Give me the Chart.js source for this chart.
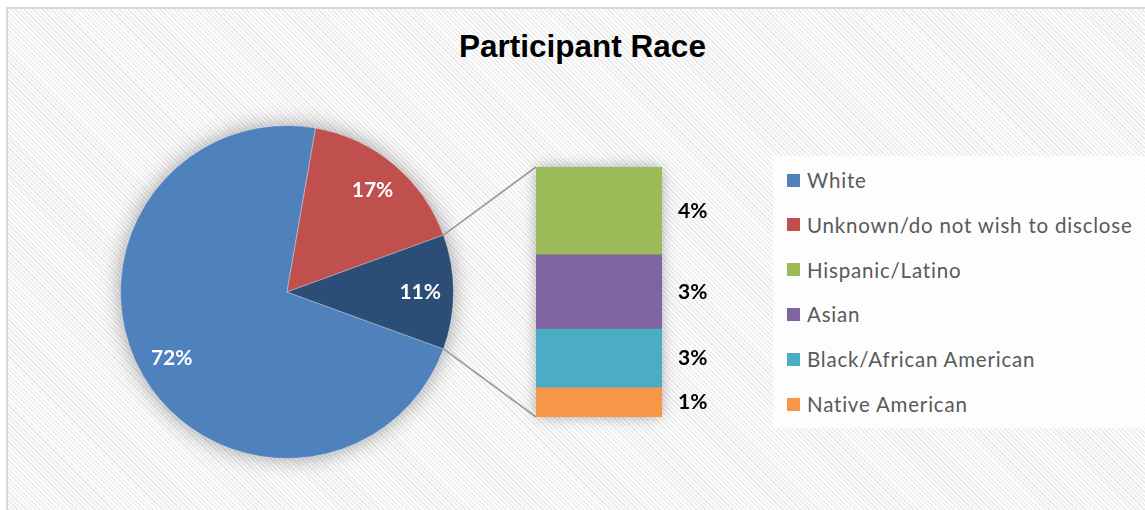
<!DOCTYPE html>
<html>
<head>
<meta charset="utf-8">
<title>Participant Race</title>
<script src="https://cdn.jsdelivr.net/npm/chart.js@4.4.1/dist/chart.umd.min.js"></script>
<style>
    html, body { margin: 0; padding: 0; }
    body { width: 1145px; height: 510px; overflow: hidden; background: #fff; position: relative; }
    #frame {
        position: absolute; left: 6px; top: 7px; width: 1170px; height: 530px;
        box-sizing: border-box; border: 2px solid #d9d9d9;
        background: repeating-linear-gradient(45deg, #ffffff 0px, #ffffff 1.6px, #ececec 1.6px, #ececec 3.2px);
    }
    #title {
        position: absolute; left: 0; top: 31px; width: 1165px; text-align: center;
        font: bold 31.5px "Liberation Sans", Arial, sans-serif; line-height: 31px; color: #000;
    }
    #pieWrap { position: absolute; left: 97px; top: 102px; width: 380px; height: 380px; }
    #barWrap { position: absolute; left: 420px; top: 147px; width: 310px; height: 290px; }
    #legend {
        position: absolute; left: 773px; top: 156px; width: 400px; height: 272px;
        background: rgba(255, 255, 255, 0.8);
    }
    .legend-row {
        position: absolute; left: 14px; height: 24px; display: flex; align-items: center;
        font: 20.5px Lato, "Open Sans", sans-serif; letter-spacing: 0.8px; color: #595959; white-space: nowrap;
    }
    .legend-box { width: 13px; height: 13px; margin-right: 7px; flex: none; }
</style>
</head>
<body>
<div id="frame"></div>
<div id="title">Participant Race</div>
<div id="pieWrap"><canvas id="pieChart" width="380" height="380"></canvas></div>
<div id="barWrap"><canvas id="barChart" width="310" height="290"></canvas></div>
<div id="legend"></div>

<script>
// Pie part (percent of participants)
const pieLabels = ['White', 'Unknown/do not wish to disclose', 'Other'];
const pieColors = ['#4f81bd', '#c0504d', '#2c4d75'];
const whiteValue = 72.2;
const unknownValue = 16.7;

// Bar part: the "Other" slice split up (top to bottom)
const barLabels = ['Hispanic/Latino', 'Asian', 'Black/African American', 'Native American'];
const barValues = [3.9, 3.3, 2.6, 1.3];
const barColors = ['#9bbb59', '#8064a2', '#4bacc6', '#f79646'];

document.addEventListener('DOMContentLoaded', function () {

    const otherValue = barValues.reduce((a, b) => a + b, 0);
    const pieValues = [whiteValue, unknownValue, otherValue];
    const total = pieValues.reduce((a, b) => a + b, 0);

    function pct(v) {
        return Math.round(v) + '%';
    }

    // soft grey glow under the pie
    const pieShadow = {
        id: 'pieShadow',
        beforeDatasetsDraw(chart) {
            const arc = chart.getDatasetMeta(0).data[0];
            const ctx = chart.ctx;
            ctx.save();
            ctx.shadowColor = 'rgba(0, 0, 0, 0.4)';
            ctx.shadowBlur = 22;
            ctx.fillStyle = pieColors[0];
            ctx.beginPath();
            ctx.arc(arc.x, arc.y, arc.outerRadius - 1, 0, Math.PI * 2);
            ctx.fill();
            ctx.restore();
        }
    };

    // white percent labels inside the slices
    const pieLabelsPlugin = {
        id: 'pieLabels',
        afterDatasetsDraw(chart) {
            const ctx = chart.ctx;
            const meta = chart.getDatasetMeta(0);
            ctx.save();
            ctx.font = 'bold 21px Lato, sans-serif';
            ctx.fillStyle = '#ffffff';
            ctx.textAlign = 'center';
            ctx.textBaseline = 'middle';
            meta.data.forEach(function (arc, i) {
                const mid = (arc.startAngle + arc.endAngle) / 2;
                const r = arc.outerRadius * 0.8;
                ctx.fillText(pct(pieValues[i] / total * 100), arc.x + Math.cos(mid) * r, arc.y + Math.sin(mid) * r);
            });
            ctx.restore();
        }
    };

    const pieChart = new Chart(document.getElementById('pieChart'), {
        type: 'pie',
        data: {
            labels: pieLabels,
            datasets: [{
                data: pieValues,
                backgroundColor: pieColors,
                borderColor: 'rgba(255, 255, 255, 0.35)',
                borderWidth: 1
            }]
        },
        options: {
            responsive: false,
            animation: false,
            // "Other" slice centred on the right, like Excel's pie of bar
            rotation: 90 + (otherValue / total * 360) / 2,
            layout: { padding: 23 },
            plugins: {
                legend: { display: false },
                tooltip: { enabled: false }
            }
        },
        plugins: [pieShadow, pieLabelsPlugin]
    });

    // glow under the bar and the connector lines back to the pie
    const barBackdrop = {
        id: 'barBackdrop',
        beforeDatasetsDraw(chart) {
            const ctx = chart.ctx;
            const area = chart.chartArea;
            ctx.save();
            ctx.shadowColor = 'rgba(0, 0, 0, 0.35)';
            ctx.shadowBlur = 14;
            ctx.fillStyle = barColors[0];
            ctx.fillRect(area.left + 1, area.top + 1, area.right - area.left - 2, area.bottom - area.top - 2);
            ctx.restore();

            // pie coordinates -> bar canvas coordinates
            const pieRect = pieChart.canvas.getBoundingClientRect();
            const barRect = chart.canvas.getBoundingClientRect();
            const dx = pieRect.left - barRect.left;
            const dy = pieRect.top - barRect.top;
            const other = pieChart.getDatasetMeta(0).data[2];
            const r = other.outerRadius;

            ctx.save();
            ctx.strokeStyle = '#999999';
            ctx.lineWidth = 1.6;
            ctx.beginPath();
            ctx.moveTo(other.x + dx + Math.cos(other.startAngle) * r, other.y + dy + Math.sin(other.startAngle) * r);
            ctx.lineTo(area.left, area.top);
            ctx.moveTo(other.x + dx + Math.cos(other.endAngle) * r, other.y + dy + Math.sin(other.endAngle) * r);
            ctx.lineTo(area.left, area.bottom);
            ctx.stroke();
            ctx.restore();
        }
    };

    // black percent labels to the right of the bar
    const barLabelsPlugin = {
        id: 'barLabels',
        afterDatasetsDraw(chart) {
            const ctx = chart.ctx;
            ctx.save();
            ctx.font = 'bold 21px Lato, sans-serif';
            ctx.fillStyle = '#000000';
            ctx.textAlign = 'left';
            ctx.textBaseline = 'middle';
            chart.data.datasets.forEach(function (ds, i) {
                const bar = chart.getDatasetMeta(i).data[0];
                ctx.fillText(pct(ds.data[0]), chart.chartArea.right + 16, (bar.y + bar.base) / 2);
            });
            ctx.restore();
        }
    };

    // stacked bar: first dataset sits at the bottom, so reverse the list
    const barDatasets = barLabels.map(function (label, i) {
        return {
            label: label,
            data: [barValues[i]],
            backgroundColor: barColors[i],
            borderWidth: 0,
            barPercentage: 1,
            categoryPercentage: 1
        };
    }).reverse();

    new Chart(document.getElementById('barChart'), {
        type: 'bar',
        data: {
            labels: ['Other'],
            datasets: barDatasets
        },
        options: {
            responsive: false,
            animation: false,
            layout: { padding: { left: 116, right: 68, top: 20, bottom: 20 } },
            scales: {
                x: { display: false, stacked: true },
                y: { display: false, stacked: true, min: 0, max: otherValue }
            },
            plugins: {
                legend: { display: false },
                tooltip: { enabled: false }
            }
        },
        plugins: [barBackdrop, barLabelsPlugin]
    });

    // legend: pie categories first, then the bar breakdown
    const legendLabels = [pieLabels[0], pieLabels[1]].concat(barLabels);
    const legendColors = [pieColors[0], pieColors[1]].concat(barColors);
    const legend = document.getElementById('legend');
    legendLabels.forEach(function (label, i) {
        const row = document.createElement('div');
        row.className = 'legend-row';
        row.style.top = (24 + i * 44.8 - 12) + 'px';
        const box = document.createElement('span');
        box.className = 'legend-box';
        box.style.background = legendColors[i];
        const text = document.createElement('span');
        text.textContent = label;
        row.appendChild(box);
        row.appendChild(text);
        legend.appendChild(row);
    });
});
</script>
</body>
</html>
